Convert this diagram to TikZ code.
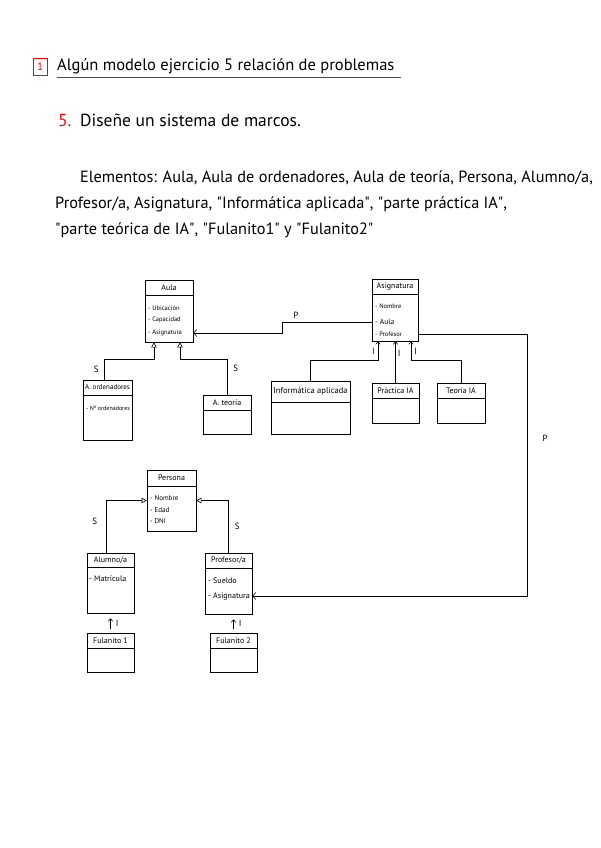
\documentclass[tikz,border=0pt]{standalone}
\usepackage{fontspec}
\setmainfont{PT Sans}
\usetikzlibrary{arrows.meta}

\newcommand{\qq}{\textquotedbl}

\tikzset{
  clsbox/.style={draw, line width=0.7pt, inner sep=0pt},
  clstitle/.style={anchor=north, minimum height=15pt, inner sep=0pt, font=\fontsize{8}{9}\selectfont},
  attr/.style={anchor=west, inner sep=0pt, font=\fontsize{6.5}{7.5}\selectfont},
  bigattr/.style={attr, font=\fontsize{8}{9}\selectfont},
  gen/.style={-{Triangle[open, length=5pt, width=5.5pt]}, line width=0.6pt},
  assoc/.style={-{Straight Barb[length=3pt, width=7pt]}, line width=0.6pt},
  inst/.style={-{Straight Barb[length=2.5pt, width=4.5pt]}, line width=0.6pt},
  lbl/.style={font=\fontsize{9}{10}\selectfont, inner sep=1pt},
  txt/.style={anchor=base west, inner sep=0pt},
}

\begin{document}
\begin{tikzpicture}[x=1pt, y=-1pt]
\useasboundingbox (0,0) rectangle (600,848);

% header
\node[draw=red, text=red, line width=0.6pt, minimum width=14pt, minimum height=17pt, inner sep=0pt, font=\fontsize{11}{12}\selectfont] (num) at (40,66.5) {1};
\node[txt, font=\fontsize{16.5}{19}\selectfont] (titulo) at (57,71) {Algún modelo ejercicio 5 relación de problemas};
\draw[red, line width=0.7pt] ([yshift=-6pt]titulo.base west) -- ([yshift=-6pt, xshift=6pt]titulo.base east);

\node[txt, text=red, font=\fontsize{17.5}{20}\selectfont] (ejnum) at (58,127) {5.};
\node[txt, font=\fontsize{17.5}{20}\selectfont] (enunciado) at (80,127) {Diseñe un sistema de marcos.};

\node[txt, font=\fontsize{16.3}{18}\selectfont] (elem1) at (80,182) {Elementos: Aula, Aula de ordenadores, Aula de teoría, Persona, Alumno/a,};
\node[txt, font=\fontsize{16.3}{18}\selectfont] (elem2) at (55,208) {Profesor/a, Asignatura, \qq Informática aplicada\qq, \qq parte práctica IA\qq,};
\node[txt, font=\fontsize{16.3}{18}\selectfont] (elem3) at (55,234) {\qq parte teórica de IA\qq, \qq Fulanito1\qq{} y \qq Fulanito2\qq};

% Aula
\node[clsbox, minimum width=48pt, minimum height=62pt] (aula) at (169,311) {};
\node[clstitle] (aulaT) at (aula.north) {Aula};
\draw (aula.west |- aulaT.south) -- (aula.east |- aulaT.south);
\node[attr] (aulaUbi) at (148,308) {- Ubicación};
\node[attr] (aulaCap) at (148,320) {- Capacidad};
\node[attr] (aulaAsig) at (148,333) {- Asignatura};

% Asignatura
\node[clsbox, minimum width=46pt, minimum height=62pt] (asig) at (395,310) {};
\node[clstitle] (asigT) at (asig.north) {Asignatura};
\draw (asig.west |- asigT.south) -- (asig.east |- asigT.south);
\node[attr] (asigNom) at (375,306) {- Nombre};
\node[attr, font=\fontsize{7.5}{8.5}\selectfont] (asigAula) at (375,322) {- Aula};
\node[attr] (asigProf) at (375,334) {- Profesor};

% subclases de Aula
\node[clsbox, minimum width=49pt, minimum height=60pt] (aord) at (107.5,410) {};
\node[clstitle, font=\fontsize{7}{8}\selectfont] (aordT) at (aord.north) {A. ordenadores};
\draw (aord.west |- aordT.south) -- (aord.east |- aordT.south);
\node[attr, font=\fontsize{6}{7}\selectfont] (aordNum) at (86,408) {- Nº ordenadores};

\node[clsbox, minimum width=48pt, minimum height=39pt] (ateo) at (227,414.5) {};
\node[clstitle] (ateoT) at (ateo.north) {A. teoría};
\draw (ateo.west |- ateoT.south) -- (ateo.east |- ateoT.south);

% instancias de Asignatura
\node[clsbox, minimum width=79pt, minimum height=53pt] (info) at (310.5,407.5) {};
\node[clstitle, minimum height=21pt, font=\fontsize{8.5}{9.5}\selectfont] (infoT) at (info.north) {Informática aplicada};
\draw (info.west |- infoT.south) -- (info.east |- infoT.south);

\node[clsbox, minimum width=47pt, minimum height=40pt] (prac) at (395.5,403) {};
\node[clstitle] (pracT) at (prac.north) {Práctica IA};
\draw (prac.west |- pracT.south) -- (prac.east |- pracT.south);

\node[clsbox, minimum width=48pt, minimum height=40pt] (teor) at (461,403) {};
\node[clstitle] (teorT) at (teor.north) {Teoría IA};
\draw (teor.west |- teorT.south) -- (teor.east |- teorT.south);

% Persona
\node[clsbox, minimum width=49pt, minimum height=61pt] (pers) at (171.5,500.5) {};
\node[clstitle, minimum height=16pt] (persT) at (pers.north) {Persona};
\draw (pers.west |- persT.south) -- (pers.east |- persT.south);
\node[attr, font=\fontsize{7}{8}\selectfont] (persNom) at (150,498) {- Nombre};
\node[attr, font=\fontsize{7}{8}\selectfont] (persEdad) at (150,510) {- Edad};
\node[attr, font=\fontsize{7}{8}\selectfont] (persDni) at (150,521) {- DNI};

\node[clsbox, minimum width=47pt, minimum height=60pt] (alum) at (110.5,583) {};
\node[clstitle, minimum height=14pt] (alumT) at (alum.north) {Alumno/a};
\draw (alum.west |- alumT.south) -- (alum.east |- alumT.south);
\node[bigattr] (alumMat) at (89,579) {- Matrícula};

\node[clsbox, minimum width=47pt, minimum height=61pt] (prof) at (228.5,583.5) {};
\node[clstitle] (profT) at (prof.north) {Profesor/a};
\draw (prof.west |- profT.south) -- (prof.east |- profT.south);
\node[bigattr] (profSue) at (208,581) {- Sueldo};
\node[bigattr] (profAsig) at (208,596) {- Asignatura};

\node[clsbox, minimum width=47pt, minimum height=39pt] (ful1) at (110.5,652.5) {};
\node[clstitle] (ful1T) at (ful1.north) {Fulanito 1};
\draw (ful1.west |- ful1T.south) -- (ful1.east |- ful1T.south);

\node[clsbox, minimum width=47pt, minimum height=39pt] (ful2) at (233.5,652.5) {};
\node[clstitle] (ful2T) at (ful2.north) {Fulanito 2};
\draw (ful2.west |- ful2T.south) -- (ful2.east |- ful2T.south);

% relaciones
\draw[assoc] (asig.west |- asigAula) -- node[lbl, above=2pt, pos=0.85] {P} ++(-89,0) |- (aula.east |- aulaAsig);
\draw[assoc] (asig.east |- asigProf) -- ++(109,0) |- node[lbl, right=14pt, pos=0.2] {P} (prof.east |- profAsig);

\draw[gen] ([xshift=-3.5pt]aord.north) -- node[lbl, left=4pt] {S} ++(0,-20) -| ([xshift=-15pt]aula.south);
\draw[gen] (ateo.north) -- node[lbl, right=5pt, pos=0.75] {S} ++(0,-35) -| ([xshift=11pt]aula.south);

\draw[inst] (info.north) -- ++(0,-20) -| node[lbl, left=2pt, pos=0.75] {I} ([xshift=-17pt]asig.south);
\draw[inst] (prac.north) -- node[lbl, right=1pt, pos=0.7] {I} (prac.north |- asig.south);
\draw[inst] (teor.north) -- ++(0,-22) -| node[lbl, right=2pt, pos=0.75] {I} ([xshift=16pt]asig.south);

\draw[gen] ([xshift=-4pt]alum.north) |- node[lbl, left=8pt, pos=0.3] {S} (pers.west);
\draw[gen] (prof.north) |- node[lbl, right=5pt, pos=0.25] {S} (pers.east);

\draw[inst, shorten <=4pt, shorten >=5pt] (ful1.north) -- node[lbl, right=4pt] {I} (alum.south);
\draw[inst, shorten <=4pt, shorten >=5pt] (ful2.north) -- node[lbl, right=4pt] {I} (ful2.north |- prof.south);
\end{tikzpicture}
\end{document}
